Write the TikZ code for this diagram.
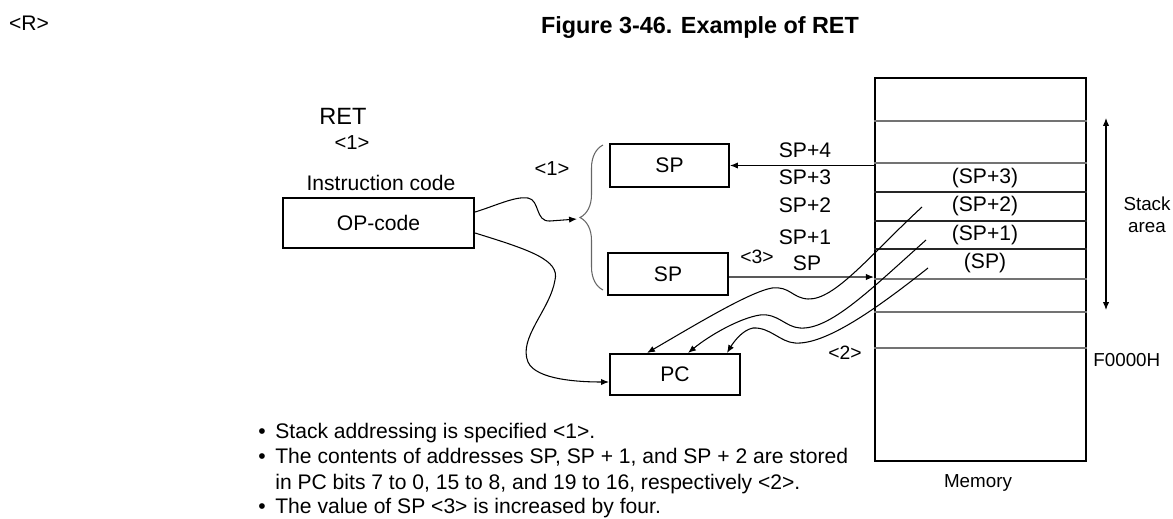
\documentclass[tikz,border=0pt]{standalone}
\usepackage{fontspec}
\setmainfont{Liberation Sans}
\usetikzlibrary{arrows.meta, decorations.pathreplacing}
\tikzset{
  regbox/.style={draw, line width=1.2pt, inner sep=0pt, font=\fontsize{12}{14}\selectfont},
  lbl/.style={font=\fontsize{12}{14}\selectfont, inner sep=0pt},
  smalllbl/.style={font=\fontsize{10.7}{12.6}\selectfont, inner sep=0pt},
  wire/.style={line width=0.6pt},
  arr/.style={wire, -{Latex[length=4.5pt,width=3.6pt]}},
  dblarr/.style={wire, {Latex[length=4.5pt,width=3.6pt]}-{Latex[length=4.5pt,width=3.6pt]}},
  cellline/.style={line width=0.6pt, black!55},
  cellbold/.style={line width=1pt, black!85},
}

\begin{document}
\begin{tikzpicture}[x=0.02cm, y=-0.02cm]
\useasboundingbox (0,0) rectangle (1173,518);
% headings
\node[lbl] (rmark) at (29,23) {<R>};
\node[inner sep=0pt, font=\fontsize{13.3}{15}\selectfont\bfseries] (title) at (700,28) {Figure 3-46. Example of RET};
% instruction
\node[lbl, font=\fontsize{13.4}{15}\selectfont] (ret) at (343,116) {RET};
\node[lbl, font=\fontsize{11.5}{13}\selectfont] (retn) at (352,143) {<1>};
\node[lbl] (icode) at (381,183) {Instruction code};
\node[regbox, minimum width=3.82cm, minimum height=1cm] (op) at (378.5,223) {OP-code};
% registers
\node[regbox, minimum width=2.38cm, minimum height=0.86cm] (spa) at (669.5,165.5) {SP};
\node[regbox, minimum width=2.4cm, minimum height=0.84cm] (spb) at (668,274) {SP};
\node[regbox, minimum width=2.6cm, minimum height=0.82cm] (pc) at (675,374.5) {PC};
\coordinate (brtop) at (603,145);
\coordinate (brbot) at (603,290);
\coordinate (tip) at (577,219);
\draw[black!60, line width=0.6pt, decorate, decoration={brace, amplitude=0.46cm}] (brbot) -- (brtop);
\node[lbl, font=\fontsize{11.5}{13}\selectfont] (spn) at (552,169) {<1>};
% memory
\node[draw, line width=1.3pt, minimum width=4.22cm, minimum height=7.66cm, inner sep=0pt] (mem) at (980.5,269.5) {};
\foreach \yy in {121,163,279,312,348}
  \draw[cellline] (mem.west |- 0,\yy) -- (mem.east |- 0,\yy);
\foreach \yy in {192,221,249}
  \draw[cellbold] (mem.west |- 0,\yy) -- (mem.east |- 0,\yy);
\node[lbl] (m3) at (985,178) {(SP+3)};
\node[lbl] (m2) at (985,206) {(SP+2)};
\node[lbl] (m1) at (985,235) {(SP+1)};
\node[lbl] (m0) at (985,263) {(SP)};
\node[smalllbl] (memname) at (978,483) {Memory};
\node[smalllbl, anchor=west] (bottom) at (1093,360) {F0000H};
\node[smalllbl, align=center] (stk) at (1147,215) {Stack\\area};
\coordinate (stktop) at (1106,118);
\coordinate (stkbot) at (1106,310);
\draw[dblarr] (stktop) -- (stkbot);
% addresses
\node[lbl] (a4) at (805,150) {SP+4};
\node[lbl] (a3) at (805,177) {SP+3};
\node[lbl] (a2) at (805,205) {SP+2};
\node[lbl] (a1) at (805,237) {SP+1};
\node[lbl] (a0) at (807,263) {SP};
\node[lbl, font=\fontsize{11}{13}\selectfont] (n3) at (757,257) {<3>};
\node[lbl, font=\fontsize{11}{13}\selectfont] (n2) at (845,353) {<2>};
% connectors
\draw[arr] (mem.west |- spa.east) -- (spa.east);
\draw[arr] ([yshift=-0.06cm]spb.east) -- (mem.west |- 0,277);
\draw[arr] ([yshift=0.22cm]op.east) .. controls (495,206) and (515,196) .. (528,198)
  .. controls (540,200) and (535,222) .. (550,221) -- (tip);
\draw[arr] ([yshift=-0.2cm]op.east) .. controls (530,250) and (560,260) .. (555,280)
  .. controls (550,310) and (518,338) .. (528,362)
  .. controls (536,380) and (580,382) .. ([yshift=-0.15cm]pc.west);
\coordinate (c2) at (922,207);
\coordinate (c1) at (926,240);
\coordinate (c0) at (928,268);
\draw[arr] (c2) .. controls (870,255) and (835,300) .. (808,299)
  .. controls (792,298) and (790,286) .. (772,288)
  .. controls (750,292) and (700,322) .. ([xshift=-0.56cm]pc.north);
\draw[arr] (c1) .. controls (870,290) and (830,330) .. (800,328)
  .. controls (785,327) and (778,313) .. (760,315)
  .. controls (740,318) and (710,335) .. ([xshift=0.26cm]pc.north);
\draw[arr] (c0) .. controls (875,310) and (825,345) .. (795,343)
  .. controls (780,342) and (770,327) .. (753,328)
  .. controls (742,330) and (733,343) .. ([xshift=1.04cm]pc.north);
% notes
\node[lbl, anchor=base] (d1) at (262,438) {•};
\node[lbl, anchor=base] (d2) at (262,463) {•};
\node[lbl, anchor=base] (d4) at (262,513) {•};
\node[lbl, anchor=base west] (t1) at (275,438) {Stack addressing is specified <1>.};
\node[lbl, anchor=base west] (t2) at (275,463) {The contents of addresses SP, SP + 1, and SP + 2 are stored};
\node[lbl, anchor=base west] (t3) at (275,489) {in PC bits 7 to 0, 15 to 8, and 19 to 16, respectively <2>.};
\node[lbl, anchor=base west] (t4) at (275,513) {The value of SP <3> is increased by four.};
\end{tikzpicture}
\end{document}
